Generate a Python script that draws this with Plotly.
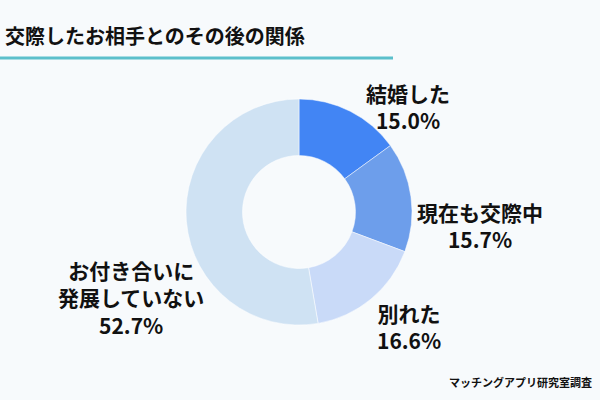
import plotly.graph_objects as go

labels = ["結婚した", "現在も交際中", "別れた", "お付き合いに<br>発展していない"]
values = [15.0, 15.7, 16.6, 52.7]
colors = ["#4285f4", "#6d9eeb", "#c9daf8", "#cfe2f3"]
title = "交際したお相手とのその後の関係"
source = "マッチングアプリ研究室調査"

FONT = "Noto Sans CJK JP"
W, H = 600, 400
cx, cy, r = 299, 212, 113

fig = go.Figure(go.Pie(
    labels=labels, values=values, hole=0.5, sort=False, direction="clockwise",
    rotation=0, marker=dict(colors=colors, line=dict(color="#ffffff", width=0.5)),
    textinfo="none", hoverinfo="label+percent", showlegend=False,
    domain=dict(x=[(cx - r) / W, (cx + r) / W], y=[(H - cy - r) / H, (H - cy + r) / H]),
))

# label positions (pixel centres)
label_pos = [(408, 106), (480, 226), (409, 326), (131, 297)]
annotations = []
for lab, v, (x, y) in zip(labels, values, label_pos):
    annotations.append(dict(
        x=x / W, y=1 - y / H, xref="paper", yref="paper", xanchor="center", yanchor="middle",
        text=f"{lab}<br>{v:.1f}%", showarrow=False, align="center",
        font=dict(family=FONT, size=21, color="#111111", weight="bold"),
    ))
annotations.append(dict(
    x=3 / W, y=1 - 35 / H, xref="paper", yref="paper", xanchor="left", yanchor="middle",
    text=title, showarrow=False, font=dict(family=FONT, size=20, color="#111111", weight="bold"),
))
annotations.append(dict(
    x=594 / W, y=1 - 382 / H, xref="paper", yref="paper", xanchor="right", yanchor="middle",
    text=source, showarrow=False, font=dict(family=FONT, size=11, color="#111111", weight="bold"),
))

fig.update_layout(
    width=W, height=H, margin=dict(l=0, r=0, t=0, b=0),
    paper_bgcolor="#f7fafc", plot_bgcolor="#f7fafc",
    annotations=annotations,
    shapes=[dict(type="line", xref="paper", yref="paper", x0=0, x1=393 / W,
                 y0=1 - 58 / H, y1=1 - 58 / H, line=dict(color="#5bbfcb", width=3))],
)
fig.write_html("out.html", config={"displayModeBar": False},
               post_script="document.body.style.margin='0';document.body.style.overflow='hidden';")
